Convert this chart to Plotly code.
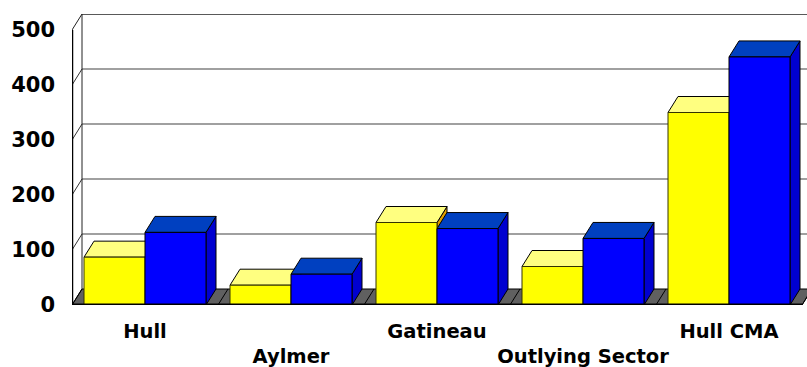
import plotly.graph_objects as go

# Regions and the two series plotted for each
categories = ["Hull", "Aylmer", "Gatineau", "Outlying Sector", "Hull CMA"]
series_yellow = [87, 36, 150, 70, 350]
series_blue = [132, 56, 139, 121, 451]
y_ticks = [0, 100, 200, 300, 400, 500]

# Layout geometry (pixels)
W_PX, H_PX = 807, 367
M_L, M_R, M_T, M_B = 72, 0, 14, 62
PX_PER_CAT = 146.0
PX_PER_UNIT = 0.55
DEPTH_DX_PX, DEPTH_DY_PX = 10, 16

DX = DEPTH_DX_PX / PX_PER_CAT
DY = DEPTH_DY_PX / PX_PER_UNIT
BAR_W = 61 / PX_PER_CAT
X_MIN = -0.5
X_MAX = X_MIN + (W_PX - M_L - M_R) / PX_PER_CAT
Y_MAX = (H_PX - M_T - M_B) / PX_PER_UNIT
FLOOR_END = len(categories) - 0.5
TOP = y_ticks[-1]

idx = list(range(len(categories)))

YELLOW = dict(front="#FFFF00", top="#FFFF80", side="#E0A000")
BLUE = dict(front="#0000FF", top="#0040C0", side="#0000D0")

shapes = []


def poly(pts, fill, line_color="black", width=1, layer="below"):
    d = "M " + " L ".join(f"{x},{y}" for x, y in pts) + " Z"
    return dict(type="path", path=d, xref="x", yref="y", fillcolor=fill,
                line=dict(color=line_color, width=width), layer=layer)


def seg(x0, y0, x1, y1, color="black", width=1, layer="below"):
    return dict(type="line", x0=x0, y0=y0, x1=x1, y1=y1, xref="x", yref="y",
                line=dict(color=color, width=width), layer=layer)


# Back wall gridlines and their traces on the left wall
for v in y_ticks[1:-1]:
    shapes.append(seg(X_MIN + DX, v + DY, X_MAX + 1, v + DY, color="#808080", width=1.5))
    shapes.append(seg(X_MIN, v, X_MIN + DX, v + DY, color="#333333", width=1))
# Top edge of the back wall and left wall
shapes.append(seg(X_MIN + DX, TOP + DY, X_MAX + 1, TOP + DY, color="#222222", width=1.5))
shapes.append(seg(X_MIN, TOP, X_MIN + DX, TOP + DY, color="#222222", width=1))
shapes.append(seg(X_MIN + DX, DY, X_MIN + DX, TOP + DY, color="#222222", width=1))

# Floor with category dividers
shapes.append(poly([(X_MIN, 0), (FLOOR_END, 0), (FLOOR_END + DX, DY), (X_MIN + DX, DY)],
                   "#606060"))
for k in range(len(categories) + 1):
    b = X_MIN + k
    shapes.append(seg(b, 0, b + DX, DY, color="black", width=1))

# Top and side faces of each bar (front faces are the bar traces)
for i in idx:
    for vals, col, off in ((series_yellow, YELLOW, -BAR_W), (series_blue, BLUE, 0.0)):
        v = vals[i]
        x0 = i + off
        x1 = x0 + BAR_W
        shapes.append(poly([(x1, 0), (x1 + DX, DY), (x1 + DX, v + DY), (x1, v)], col["side"]))
        shapes.append(poly([(x0, v), (x1, v), (x1 + DX, v + DY), (x0 + DX, v + DY)], col["top"]))

# Front axis lines
shapes.append(seg(X_MIN, 0, X_MIN, TOP, color="black", width=2.5, layer="above"))
shapes.append(seg(X_MIN, 0, FLOOR_END, 0, color="black", width=3, layer="above"))

fig = go.Figure()
fig.add_trace(go.Bar(x=idx, y=series_yellow, offset=-BAR_W, width=BAR_W,
                     marker=dict(color=YELLOW["front"], line=dict(color="#333300", width=1)),
                     hoverinfo="skip", showlegend=False))
fig.add_trace(go.Bar(x=idx, y=series_blue, offset=0, width=BAR_W,
                     marker=dict(color=BLUE["front"], line=dict(color="black", width=1)),
                     hoverinfo="skip", showlegend=False))

# Alternate the category labels over two rows
ticktext = [c if i % 2 == 0 else "<br>" + c for i, c in enumerate(categories)]

fig.update_layout(
    width=W_PX, height=H_PX,
    margin=dict(l=M_L, r=M_R, t=M_T, b=M_B, pad=0),
    paper_bgcolor="white", plot_bgcolor="white",
    barmode="overlay",
    shapes=shapes,
    font=dict(family="DejaVu Sans", color="black"),
    xaxis=dict(range=[X_MIN, X_MAX], tickvals=idx, ticktext=ticktext,
               showgrid=False, zeroline=False, showline=False, ticks="",
               tickfont=dict(size=19.5, family="DejaVu Sans", weight="bold"),
               ticklabelstandoff=12, fixedrange=True),
    yaxis=dict(range=[0, Y_MAX], tickvals=y_ticks,
               showgrid=False, zeroline=False, showline=False, ticks="",
               tickfont=dict(size=21, family="DejaVu Sans", weight="bold"),
               ticklabelstandoff=16, fixedrange=True),
)

fig.write_html("out.html")
